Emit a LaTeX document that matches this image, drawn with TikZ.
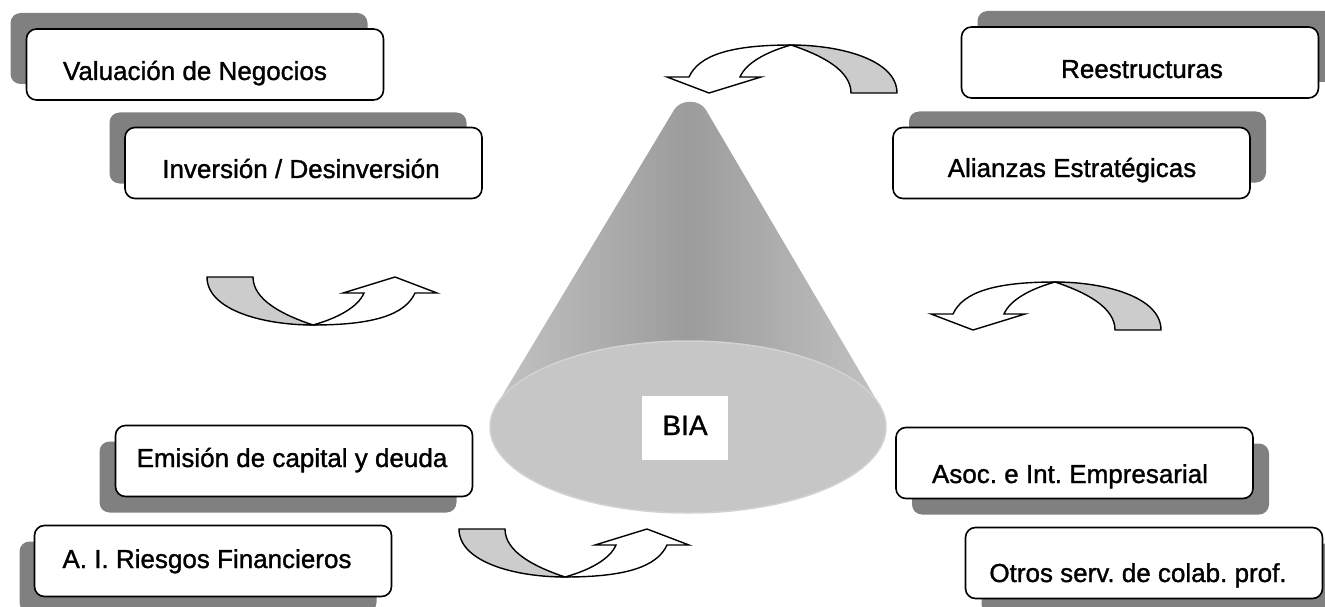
\documentclass[tikz,border=0pt]{standalone}
\usepackage{fontspec}
\usetikzlibrary{shapes.geometric}
\setmainfont{Liberation Sans}
\newfontfamily\labelfont{Liberation Sans}[UprightFeatures={FakeBold=1.2}]
\frenchspacing
\definecolor{shadowgray}{HTML}{808080}
\definecolor{arrowgray}{HTML}{CCCCCC}
\definecolor{conemid}{HTML}{9C9C9C}
\definecolor{coneedge}{HTML}{C2C2C2}
\definecolor{basegray}{HTML}{C6C6C6}
\definecolor{baserim}{HTML}{D2D2D2}
\tikzset{
  box/.style={draw=black, line width=1.6pt, fill=white, rounded corners=10pt,
    minimum width=357pt, minimum height=71pt, inner sep=0pt},
  shadowbox/.style={draw=none, fill=shadowgray, rounded corners=10pt,
    minimum width=357pt, minimum height=71pt, inner sep=0pt},
  lbl/.style={anchor=base, inner sep=0pt, font=\labelfont\fontsize{26}{30}\selectfont},
  arrowline/.style={draw=black, line width=1.4pt, line join=miter},
}
\newcommand{\bendarrow}[3]{%
  \begin{scope}[shift={#1}, rotate=#2]
    \path[arrowline, fill=arrowgray] (-106,-48) .. controls (-106,-15) and (-50,0) .. (0,0)
      .. controls (-30,-10) and (-60,-25) .. (-60,-48) -- cycle;
    \path[arrowline, fill=white] (0,0) .. controls (25,-7) and (45,-18) .. (51,-32)
      -- (30,-32) -- (82,-48) -- (124,-32) -- (102,-32)
      .. controls (92,-10) and (60,0) .. (0,0) -- cycle;
    \coordinate (#3) at (0,0);
  \end{scope}}
\begin{document}
\begin{tikzpicture}[x=1pt, y=-1pt]
\useasboundingbox (0,0) rectangle (1325,607);
\clip (0,0) rectangle (1325,607);

% cone
\path[shade, left color=coneedge, right color=coneedge, middle color=conemid]
  (496.4,405.3) -- (674,110) .. controls (680,99) and (700,99) .. (706,110)
  -- (879.8,405.7) -- (688,430) -- cycle;
\node[ellipse, draw=baserim, line width=1.5pt, fill=basegray, minimum width=396pt,
  minimum height=172pt, inner sep=0pt] (base) at (688,427) {};
\node[fill=white, minimum width=86pt, minimum height=64pt, inner sep=0pt] (biabox) at (685,428) {};
\node[lbl, font=\labelfont\fontsize{28}{30}\selectfont] (bia) at (685,435) {BIA};

% shadows
\node[shadowbox] (s1) at (189,48.5) {};
\node[shadowbox] (s2) at (288,148) {};
\node[shadowbox] (s3) at (1156,46.5) {};
\node[shadowbox] (s4) at (1087.5,147) {};
\node[shadowbox] (s5) at (278,477) {};
\node[shadowbox] (s6) at (198,577) {};
\node[shadowbox] (s7) at (1090.5,479) {};
\node[shadowbox] (s8) at (1160,579) {};

% boxes
\node[box] (b1) at (205,64.5) {};
\node[box] (b2) at (303.5,163) {};
\node[box] (b3) at (1140,62.5) {};
\node[box] (b4) at (1071.5,163) {};
\node[box] (b5) at (294,461) {};
\node[box] (b6) at (213,561) {};
\node[box] (b7) at (1074.5,463) {};
\node[box] (b8) at (1144,563) {};

% labels
\node[lbl] (t1) at (195,80) {Valuación de Negocios};
\node[lbl] (t2) at (301,178) {Inversión / Desinversión};
\node[lbl] (t3) at (1142,78) {Reestructuras};
\node[lbl] (t4) at (1072,177) {Alianzas Estratégicas};
\node[lbl] (t5) at (292,467) {Emisión de capital y deuda};
\node[lbl] (t6) at (207,568) {A. I. Riesgos Financieros};
\node[lbl] (t7) at (1070,483) {Asoc. e Int. Empresarial};
\node[lbl] (t8) at (1138,582) {Otros serv. de colab. prof.};

% curved arrows
\bendarrow{(313,325)}{0}{arrowB}
\bendarrow{(565,577)}{0}{arrowD}
\bendarrow{(1055,282)}{180}{arrowC}
\bendarrow{(791,45)}{180}{arrowA}
\end{tikzpicture}
\end{document}
